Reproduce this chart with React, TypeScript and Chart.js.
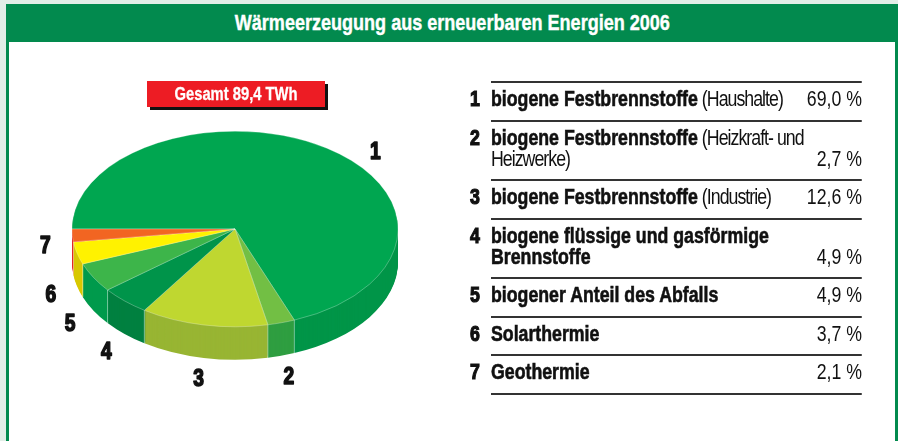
import React, { useEffect, useRef } from "react";
import { Chart, registerables } from "chart.js";

Chart.register(...registerables);

// ---------- data ----------
const title = "Wärmeerzeugung aus erneuerbaren Energien 2006";
const totalLabel = "Gesamt 89,4 TWh";
const categories = ["1", "2", "3", "4", "5", "6", "7"];
const shares = [69.0, 2.7, 12.6, 4.9, 4.9, 3.7, 2.1];
const shareLabels = ["69,0 %", "2,7 %", "12,6 %", "4,9 %", "4,9 %", "3,7 %", "2,1 %"];
const legendMain = [
  "biogene Festbrennstoffe",
  "biogene Festbrennstoffe",
  "biogene Festbrennstoffe",
  "biogene flüssige und gasförmige\nBrennstoffe",
  "biogener Anteil des Abfalls",
  "Solarthermie",
  "Geothermie",
];
const legendNote = ["(Haushalte)", "(Heizkraft- und\nHeizwerke)", "(Industrie)", "", "", "", ""];

// ---------- styles ----------
const topColors = ["#00a650", "#72bf44", "#bfd730", "#00944a", "#3db54a", "#fff200", "#f26522"];
const sideColors = ["#009548", "#2f9e41", "#98b533", "#008040", "#009a4c", "#d8c800", "#e3201f"];
const FONT = "'Liberation Sans', Arial, sans-serif";
const GREEN = "#028a4e";
const CONDENSE = 0.806;

const pie3d = {
  id: "pie3d",
  beforeDatasetsDraw(chart: any, _args: any, opts: any) {
    const arcs = chart.getDatasetMeta(0).data;
    if (!arcs.length) return;
    const ctx = chart.ctx;
    const { x: cx, y: cy } = arcs[0].getProps(["x", "y"], true);
    const k = opts.tilt;
    const depth = opts.depth;
    for (let dy = depth; dy >= 1; dy--) {
      ctx.save();
      ctx.translate(cx, cy + dy);
      ctx.scale(1, k);
      arcs.forEach((a: any, i: number) => {
        const p = a.getProps(["startAngle", "endAngle", "outerRadius"], true);
        ctx.beginPath();
        ctx.moveTo(0, 0);
        ctx.arc(0, 0, p.outerRadius, p.startAngle, p.endAngle);
        ctx.closePath();
        ctx.fillStyle = opts.sideColors[i];
        ctx.fill();
      });
      ctx.restore();
    }
    // separators on the front wall
    ctx.save();
    ctx.strokeStyle = "rgba(255,255,255,0.45)";
    ctx.lineWidth = 1;
    arcs.forEach((a: any) => {
      const p = a.getProps(["startAngle", "outerRadius"], true);
      const s = Math.sin(p.startAngle);
      if (s > 0.02) {
        const x = cx + p.outerRadius * Math.cos(p.startAngle);
        const y = cy + k * p.outerRadius * s;
        ctx.beginPath();
        ctx.moveTo(x, y);
        ctx.lineTo(x, y + depth);
        ctx.stroke();
      }
    });
    ctx.restore();
    // tilt the top face
    ctx.save();
    ctx.translate(cx, cy);
    ctx.scale(1, k);
    ctx.translate(-cx, -cy);
  },
  afterDatasetsDraw(chart: any, _args: any, opts: any) {
    const ctx = chart.ctx;
    ctx.restore();
    const arcs = chart.getDatasetMeta(0).data;
    if (!arcs.length) return;
    const { x: cx, y: cy } = arcs[0].getProps(["x", "y"], true);
    arcs.forEach((a: any, i: number) => {
      const p = a.getProps(["startAngle", "endAngle", "outerRadius"], true);
      const mid = (p.startAngle + p.endAngle) / 2 + (opts.angleShift[i] * Math.PI) / 180;
      const R = p.outerRadius + opts.labelGap;
      const s = Math.sin(mid);
      const x = cx + R * Math.cos(mid);
      const y = cy + opts.tilt * R * s + opts.frontDrop * Math.min(1, Math.max(0, 4 * s));
      ctx.save();
      ctx.translate(x, y);
      ctx.scale(opts.condense, 1);
      ctx.font = `bold 24px ${FONT}`;
      ctx.fillStyle = "#111";
      ctx.strokeStyle = "#111";
      ctx.lineWidth = 1.6;
      ctx.lineJoin = "round";
      ctx.textAlign = "center";
      ctx.textBaseline = "middle";
      ctx.strokeText(chart.data.labels[i], 0, 0);
      ctx.fillText(chart.data.labels[i], 0, 0);
      ctx.restore();
    });
  },
};

function renderLines(s: string) {
  const parts = s.split("\n");
  return parts.map((p, i) => (
    <React.Fragment key={i}>
      {p}
      {i < parts.length - 1 ? <br /> : null}
    </React.Fragment>
  ));
}

export default function App() {
  const canvasRef = useRef<HTMLCanvasElement | null>(null);

  useEffect(() => {
    if (!canvasRef.current) return;
    const chart = new Chart(canvasRef.current, {
      type: "pie",
      data: {
        labels: categories,
        datasets: [
          {
            data: shares,
            backgroundColor: topColors,
            borderColor: "rgba(255,255,255,0.35)",
            borderWidth: 1,
            radius: 163,
            clip: false,
          } as any,
        ],
      },
      options: {
        responsive: false,
        animation: false,
        events: [],
        rotation: -90,
        layout: { padding: { left: 72, right: 500, top: 66, bottom: 49 } },
        plugins: {
          legend: { display: false },
          tooltip: { enabled: false },
          pie3d: {
            tilt: 0.6,
            depth: 33,
            sideColors,
            labelGap: 27,
            frontDrop: 39,
            condense: 0.8,
            angleShift: [13.3, 0, 0, 0, 0, 0, 0],
          },
        } as any,
      },
      plugins: [pie3d as any],
    });
    return () => chart.destroy();
  }, []);

  const legendWidth = 371 / CONDENSE;
  const heavy = { WebkitTextStroke: "0.6px #111" } as React.CSSProperties;

  return (
    <div style={{ position: "fixed", left: 0, top: 0, width: 898, height: 441, background: "#e2eee7", overflow: "hidden", fontFamily: FONT }}>
      <div style={{ position: "absolute", left: 6, top: 4, width: 892, height: 450, background: "#fff", boxSizing: "border-box", border: `3px solid ${GREEN}` }} />
      <div style={{ position: "absolute", left: 6, top: 4, width: 892, height: 38, background: GREEN, color: "#fff", fontWeight: 700, fontSize: 22, lineHeight: "38px", textAlign: "center", whiteSpace: "nowrap" }}>
        <span style={{ display: "inline-block", transform: "scaleX(0.82)", WebkitTextStroke: "0.4px #fff" }}>{title}</span>
      </div>
      <canvas ref={canvasRef} width={898} height={441} style={{ position: "absolute", left: 0, top: 0 }} />
      <div style={{ position: "absolute", left: 147, top: 81, width: 178, height: 26, background: "#ed1c24", boxShadow: "3px 3px 0 #111", color: "#fff", fontWeight: 700, fontSize: 18, lineHeight: "26px", textAlign: "center", whiteSpace: "nowrap" }}>
        <span style={{ display: "inline-block", transform: "scaleX(0.82)", WebkitTextStroke: "0.3px #fff" }}>{totalLabel}</span>
      </div>
      <div style={{ position: "absolute", left: 491, top: 81, width: legendWidth, borderTop: "2px solid #333", color: "#111", transform: `scaleX(${CONDENSE})`, transformOrigin: "0 0" }}>
        {categories.map((c, i) => (
          <div key={i} style={{ position: "relative", display: "flex", alignItems: "flex-end", justifyContent: "space-between", padding: "5px 0 10.5px", borderBottom: "2px solid #333", lineHeight: "21px", fontSize: 22 }}>
            <span style={{ position: "absolute", left: -26, top: 5, fontWeight: 900, WebkitTextStroke: "1.2px #111" }}>{c}</span>
            <span style={{ whiteSpace: "nowrap" }}>
              <span style={{ fontWeight: 700, ...heavy }}>{renderLines(legendMain[i])}</span>
              {legendNote[i] ? <span style={{ fontWeight: 400, letterSpacing: "-1.2px" }}> {renderLines(legendNote[i])}</span> : null}
            </span>
            <span style={{ fontWeight: 400, whiteSpace: "nowrap", flexShrink: 0 }}>{shareLabels[i]}</span>
          </div>
        ))}
      </div>
    </div>
  );
}
